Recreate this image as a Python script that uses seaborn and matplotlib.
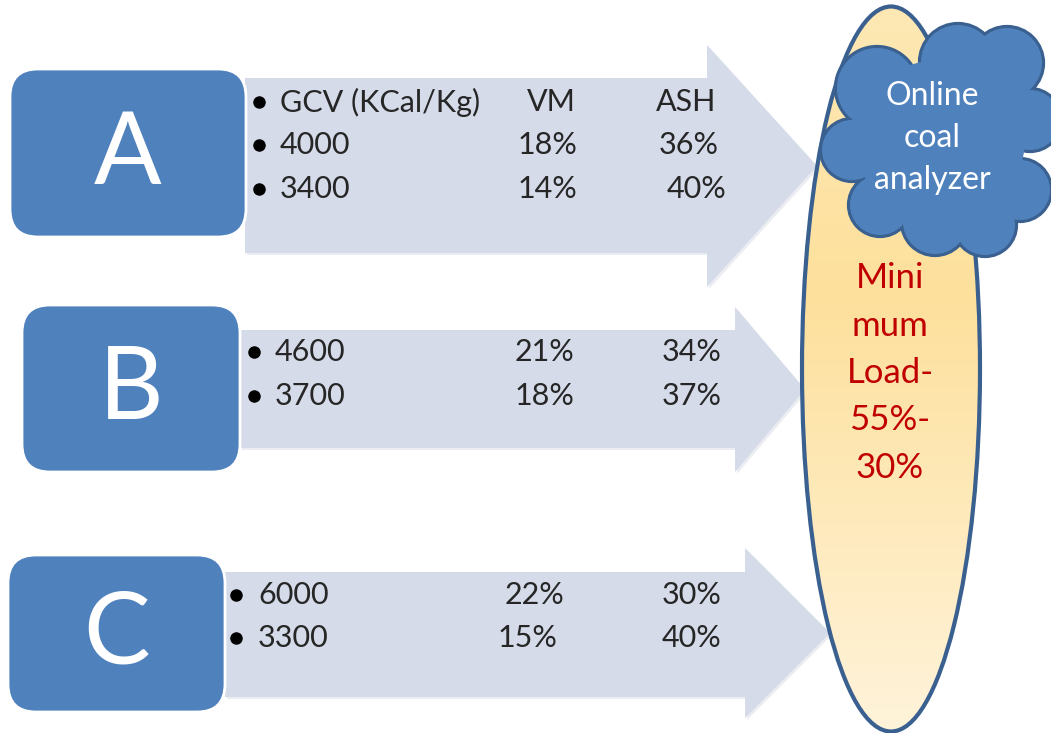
import seaborn as sns
import matplotlib.pyplot as plt
import numpy as np
from matplotlib.patches import FancyBboxPatch, Polygon, Ellipse, Circle
from matplotlib.colors import LinearSegmentedColormap

# data
sources = ['A', 'B', 'C']
header = ['GCV (KCal/Kg)', 'VM', 'ASH']
gcv_vals = [[4000, 3400], [4600, 3700], [6000, 3300]]
vm_vals = [[18, 14], [21, 18], [22, 15]]
ash_vals = [[36, 40], [34, 37], [30, 40]]
cloud_text = ['Online', 'coal', 'analyzer']
load_text = ['Mini', 'mum', 'Load-', '55%-', '30%']

BLUE = '#4F81BD'
BLUE_EDGE = '#3A6090'
ARROW = '#D5DBE9'
RED = '#C00000'

sns.set_theme(style='white')
plt.rcParams['font.family'] = ['Lato', 'DejaVu Sans']

fig = plt.figure(figsize=(10.51, 7.33), dpi=100)
ax = fig.add_axes([0, 0, 1, 1])
ax.set_xlim(0, 1051)
ax.set_ylim(733, 0)
ax.axis('off')

# geometry (pixels) of each source box and its arrow
boxes = [(10, 69, 236, 168), (22, 305, 218, 167), (8, 555, 217, 157)]
arrows = [  # body x0, body top, body bottom, head x, head top, head bottom, tip x
    (245, 78, 253, 707, 45, 287, 817),
    (240, 330, 448, 735, 307, 472, 805),
    (225, 572, 697, 745, 548, 718, 830),
]

for (bx, by, bw, bh), (x0, t, b, hx, ht, hb, tip) in zip(boxes, arrows):
    pts = [(x0, t), (hx, t), (hx, ht), (tip, (ht + hb) / 2), (hx, hb), (hx, b), (x0, b)]
    shadow = Polygon([(x + 2, y + 2) for x, y in pts], closed=True,
                     fc='#ECEDF2', ec='none', zorder=1)
    ax.add_patch(shadow)
    ax.add_patch(Polygon(pts, closed=True, fc=ARROW, ec='none', zorder=2))

for (bx, by, bw, bh), lab in zip(boxes, sources):
    r = 28
    ax.add_patch(FancyBboxPatch((bx + r, by + r), bw - 2 * r, bh - 2 * r,
                                boxstyle=f'round,pad={r}', fc=BLUE, ec='white',
                                lw=2, zorder=3))
    ax.text(bx + bw / 2, by + bh / 2 + 2, lab, color='white', fontsize=72,
            ha='center', va='center', zorder=4)

# table text inside the arrows
fs = 22
bullet_x = [259, 254, 236]
text_x = [280, 275, 258]
vm_x = [[518, 518], [515, 515], [505, 498]]
ash_x = [[659, 667], [662, 662], [662, 662]]
rows_y = [[145, 189], [352, 396], [595, 638]]


def bullet(x, y):
    ax.plot(x, y, 'o', color='black', ms=8, zorder=5)


bullet(bullet_x[0], 102)
ax.text(text_x[0], 102, header[0], fontsize=fs, va='center', zorder=5)
ax.text(527, 102, header[1], fontsize=fs, va='center', zorder=5)
ax.text(656, 102, header[2], fontsize=fs, va='center', zorder=5)

for i in range(len(sources)):
    for j in range(2):
        y = rows_y[i][j]
        bullet(bullet_x[i], y)
        ax.text(text_x[i], y, str(gcv_vals[i][j]), fontsize=fs, va='center', zorder=5)
        ax.text(vm_x[i][j], y, f'{vm_vals[i][j]}%', fontsize=fs, va='center', zorder=5)
        ax.text(ash_x[i][j], y, f'{ash_vals[i][j]}%', fontsize=fs, va='center', zorder=5)

# tall ellipse with a soft yellow gradient
ell = Ellipse((891, 369), 178, 725, fc='none', ec=BLUE_EDGE, lw=3, zorder=7)
grad = LinearSegmentedColormap.from_list(
    'g', [(0, '#FDE8B4'), (0.4, '#FDE09C'), (1, '#FFF3DA')])
img = ax.imshow(np.linspace(0, 1, 256).reshape(-1, 1), cmap=grad, aspect='auto',
                extent=(802, 980, 732, 6), origin='upper', zorder=6)
clip = Ellipse((891, 369), 178, 725, transform=ax.transData)
img.set_clip_path(clip)
ax.add_patch(ell)

for k, line in enumerate(load_text):
    ax.text(890, 278 + k * 47.5, line, color=RED, fontsize=25, ha='center',
            va='center', zorder=8)

# cloud built from overlapping circles
bumps = [(877, 88, 40), (958, 62, 37), (1007, 63, 35), (1030, 120, 30),
         (1020, 190, 30), (985, 225, 30), (935, 222, 32), (880, 205, 30),
         (852, 150, 30)]
for cx, cy, r in bumps:
    ax.add_patch(Circle((cx, cy), r, fc=BLUE, ec=BLUE_EDGE, lw=4.5, zorder=9))
for cx, cy, r in bumps:
    ax.add_patch(Circle((cx, cy), r, fc=BLUE, ec='none', zorder=10))
ax.add_patch(Ellipse((940, 140), 170, 160, fc=BLUE, ec='none', zorder=10))

for k, line in enumerate(cloud_text):
    ax.text(932, 96 + k * 42, line, color='white', fontsize=23, ha='center',
            va='center', zorder=11)

fig.savefig('out.png', dpi=100, facecolor='white')
